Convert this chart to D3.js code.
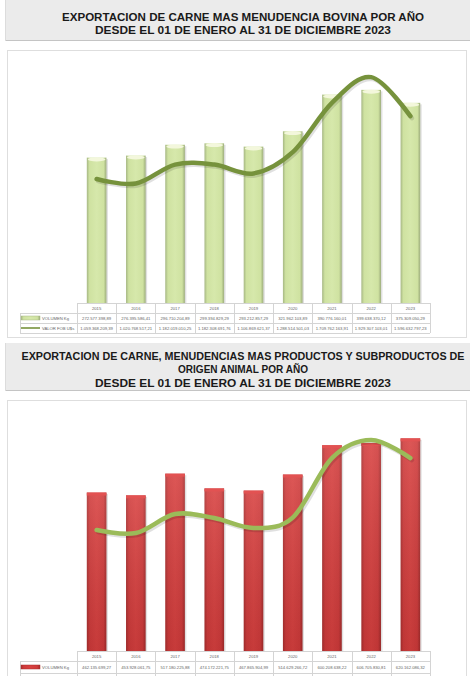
<!DOCTYPE html>
<html><head><meta charset="utf-8">
<script src="https://cdn.jsdelivr.net/npm/d3@7"></script>
<style>html,body{margin:0;padding:0;background:#fff;}svg{display:block;}</style>
</head><body>
<script>
// ---- data ----
const years = ["2015","2016","2017","2018","2019","2020","2021","2022","2023"];
const volumenBovina = [272577398.89, 276395586.41, 296710204.89, 299394829.29, 293212857.29, 321962103.89, 390776160.01, 399638370.12, 375309050.29];
const fobBovina = [1059368209.39, 1020768517.21, 1182019010.25, 1182308691.76, 1106869621.37, 1288514501.03, 1709762163.91, 1929307103.01, 1596632797.23];
const volumenTotal = [462135699.27, 453928061.75, 517180225.88, 474172221.75, 467865904.99, 514629266.72, 600208638.22, 606705830.81, 620162086.32];
const fobTotal = [1260000000, 1229000000, 1427000000, 1385000000, 1281000000, 1390000000, 2010000000, 2198000000, 2010000000];
const seriesNames = ["VOLUMEN Kg", "VALOR FOB U$s"];
const title1 = ["EXPORTACION DE CARNE MAS MENUDENCIA BOVINA POR AÑO", "DESDE EL 01 DE ENERO AL 31 DE DICIEMBRE 2023"];
const title2 = ["EXPORTACION DE CARNE, MENUDENCIAS MAS PRODUCTOS Y SUBPRODUCTOS DE", "ORIGEN ANIMAL POR AÑO", "DESDE EL 01 DE ENERO AL 31 DE DICIEMBRE 2023"];

const W = 473, H = 676;
const svg = d3.select("body").append("svg").attr("width", W).attr("height", H)
  .style("font-family", "'Liberation Sans', Arial, sans-serif");
const defs = svg.append("defs");

const loc = d3.formatLocale({decimal: ",", thousands: ".", grouping: [3], currency: ["", ""]});
const fmt = loc.format(",.2f");

function hGrad(id, stops) {
  const g = defs.append("linearGradient").attr("id", id).attr("x1", 0).attr("x2", 1).attr("y1", 0).attr("y2", 0);
  stops.forEach(s => g.append("stop").attr("offset", s[0]).attr("stop-color", s[1]));
}
hGrad("gGreen", [["0%", "#a6b784"], ["14%", "#cfe2a1"], ["50%", "#d6e8ab"], ["86%", "#cfe2a1"], ["100%", "#9dad7c"]]);
hGrad("gRed", [["0%", "#a92e2e"], ["15%", "#cf3a3a"], ["50%", "#d8403f"], ["85%", "#cf3a3a"], ["100%", "#a32b2b"]]);
const vg = defs.append("linearGradient").attr("id", "gRedV").attr("x1", 0).attr("x2", 0).attr("y1", 0).attr("y2", 1);
vg.append("stop").attr("offset", "0%").attr("stop-color", "#ffffff").attr("stop-opacity", 0.12);
vg.append("stop").attr("offset", "100%").attr("stop-color", "#000000").attr("stop-opacity", 0.08);

function titleBox(y, h, lines, baselines, lengths) {
  svg.append("rect").attr("x", 5).attr("y", y).attr("width", 465).attr("height", h).attr("fill", "#ebebeb");
  svg.append("line").attr("x1", 5).attr("x2", 470).attr("y1", y + h - 0.5).attr("y2", y + h - 0.5).attr("stroke", "#c4c4c4");
  svg.append("line").attr("x1", 5.5).attr("x2", 5.5).attr("y1", y).attr("y2", y + h).attr("stroke", "#dcdcdc");
  lines.forEach((t, i) => {
    svg.append("text").attr("x", 243).attr("y", baselines[i]).attr("text-anchor", "middle")
      .attr("font-size", 10).attr("font-weight", "bold").attr("fill", "#1a1a1a")
      .attr("textLength", lengths[i]).attr("lengthAdjust", "spacingAndGlyphs").text(t);
  });
}

titleBox(0, 41, title1, [20.5, 34], [362, 296]);
titleBox(343, 48, title2, [360, 372.8, 386.5], [443, 130, 296]);

function chart(o) {
  svg.append("rect").attr("x", 7.5).attr("y", o.boxY + 0.5).attr("width", 459).attr("height", o.boxH)
    .attr("fill", "#fff").attr("stroke", "#dedede");
  const x = d3.scaleBand().domain(years).range([77, 430]).paddingInner(0.5).paddingOuter(0.25);
  const y = d3.scaleLinear().domain([0, o.yMax]).range([o.base, o.base - 240]);
  const y2 = d3.scaleLinear().domain([0, o.y2Max]).range([o.base, o.base - 240]);
  const g = svg.append("g");
  const bw = x.bandwidth();
  g.selectAll(".sh").data(o.vol).join("rect")
    .attr("x", (d, i) => x(years[i]) + 1.5).attr("y", d => y(d) + 1.5)
    .attr("width", bw).attr("height", d => o.base - y(d) - 1.5)
    .attr("fill", "#000").attr("opacity", 0.12);
  g.selectAll(".bar").data(o.vol).join("rect")
    .attr("x", (d, i) => x(years[i])).attr("y", d => y(d))
    .attr("width", bw).attr("height", d => o.base - y(d))
    .attr("fill", o.green ? "url(#gGreen)" : "url(#gRed)");
  if (o.green) {
    g.selectAll(".cap").data(o.vol).join("ellipse")
      .attr("cx", (d, i) => x(years[i]) + bw / 2).attr("cy", d => y(d) + 1.8)
      .attr("rx", bw / 2 - 1).attr("ry", 2).attr("fill", "#f3f7dc");
  } else {
    g.selectAll(".ov").data(o.vol).join("rect")
      .attr("x", (d, i) => x(years[i])).attr("y", d => y(d))
      .attr("width", bw).attr("height", d => o.base - y(d)).attr("fill", "url(#gRedV)");
    g.selectAll(".cap").data(o.vol).join("rect")
      .attr("x", (d, i) => x(years[i])).attr("y", d => y(d))
      .attr("width", bw).attr("height", 3).attr("fill", "#e25252");
  }
  const line = d3.line().x((d, i) => x(years[i]) + bw / 2).y(d => y2(d)).curve(d3.curveCardinal.tension(0));
  g.append("path").datum(o.fob).attr("d", line).attr("fill", "none").attr("stroke", "#000").attr("stroke-opacity", 0.12)
    .attr("stroke-width", 4.5).attr("stroke-linecap", "round").attr("transform", "translate(1.5,2)");
  g.append("path").datum(o.fob).attr("d", line).attr("fill", "none").attr("stroke", o.lineColor)
    .attr("stroke-width", 4.5).attr("stroke-linecap", "round").attr("stroke-linejoin", "round");

  // data table
  const t = svg.append("g");
  const c = "#d4d4d4";
  const rows = [o.base, o.base + 10, o.base + o.rowH + 10, o.base + 2 * o.rowH + 10];
  const step = x.step();
  const x0 = 77, x1 = 430;
  t.append("line").attr("x1", x0).attr("x2", x1).attr("y1", rows[0] + 0.5).attr("y2", rows[0] + 0.5).attr("stroke", c);
  for (let r = 1; r < 4; r++)
    t.append("line").attr("x1", 20).attr("x2", x1).attr("y1", rows[r] + 0.5).attr("y2", rows[r] + 0.5).attr("stroke", c);
  t.append("line").attr("x1", 20.5).attr("x2", 20.5).attr("y1", rows[1]).attr("y2", rows[3]).attr("stroke", c);
  for (let k = 0; k <= years.length; k++) {
    const xx = Math.round(x0 + k * step) + 0.5;
    t.append("line").attr("x1", xx).attr("x2", xx).attr("y1", rows[0]).attr("y2", rows[3]).attr("stroke", c);
  }
  years.forEach((yr, i) => {
    const cx = x(yr) + bw / 2;
    t.append("text").attr("x", cx).attr("y", rows[0] + 6.8).attr("text-anchor", "middle").attr("font-size", 4.2).attr("fill", "#666").text(yr);
    t.append("text").attr("x", cx).attr("y", rows[1] + o.rowH / 2 + 1.6).attr("text-anchor", "middle").attr("font-size", 4.2).attr("fill", "#666").text(fmt(o.vol[i]));
    if (o.showFobRow)
      t.append("text").attr("x", cx).attr("y", rows[2] + o.rowH / 2 + 1.6).attr("text-anchor", "middle").attr("font-size", 4.2).attr("fill", "#666").text(fmt(o.fob[i]));
  });
  const m1 = rows[1] + o.rowH / 2, m2 = rows[2] + o.rowH / 2;
  t.append("rect").attr("x", 21).attr("y", m1 - 2).attr("width", 19).attr("height", 4)
    .attr("fill", o.green ? "url(#gGreen)" : "url(#gRed)").attr("stroke", o.green ? "#a6b784" : "#a92e2e").attr("stroke-width", 0.5);
  t.append("text").attr("x", 42).attr("y", m1 + 1.5).attr("font-size", 4.2).attr("fill", "#666").text(seriesNames[0]);
  if (o.showFobRow) {
    t.append("line").attr("x1", 21).attr("x2", 40).attr("y1", m2).attr("y2", m2).attr("stroke", o.lineColor).attr("stroke-width", 1.6);
    t.append("text").attr("x", 42).attr("y", m2 + 1.5).attr("font-size", 4.2).attr("fill", "#666").text(seriesNames[1]);
  }
}

chart({boxY: 50, boxH: 287, base: 303, yMax: 450e6, y2Max: 2050e6, vol: volumenBovina, fob: fobBovina, green: true, lineColor: "#76923c", rowH: 10, showFobRow: true});
chart({boxY: 400, boxH: 300, base: 651, yMax: 700e6, y2Max: 2500e6, vol: volumenTotal, fob: fobTotal, green: false, lineColor: "#9bbb59", rowH: 12, showFobRow: false});
</script>
</body></html>
